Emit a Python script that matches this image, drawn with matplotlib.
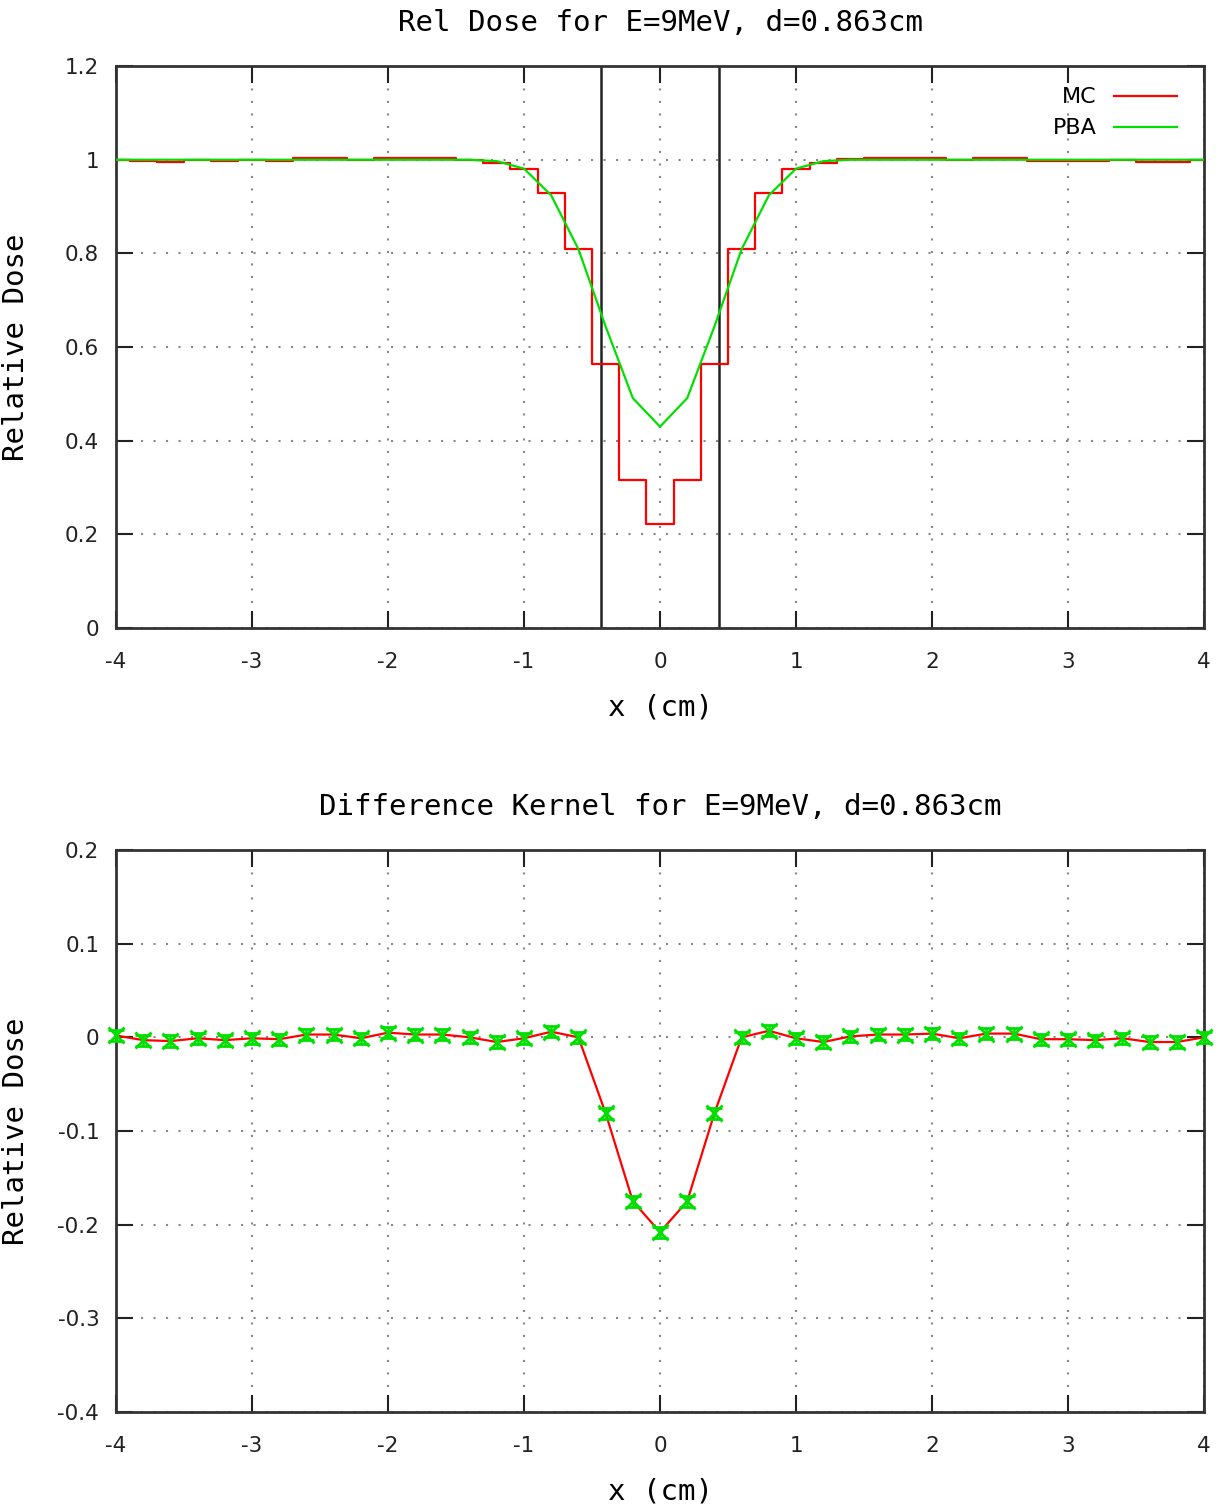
import numpy as np
import matplotlib
matplotlib.use("Agg")
import matplotlib.pyplot as plt

# ---------------------------------------------------------------------------
# Data
# ---------------------------------------------------------------------------
x_pos = [-4.0, -3.8, -3.6, -3.4, -3.2, -3.0, -2.8, -2.6, -2.4, -2.2,
         -2.0, -1.8, -1.6, -1.4, -1.2, -1.0, -0.8, -0.6, -0.4, -0.2,
         0.0, 0.2, 0.4, 0.6, 0.8, 1.0, 1.2, 1.4, 1.6, 1.8,
         2.0, 2.2, 2.4, 2.6, 2.8, 3.0, 3.2, 3.4, 3.6, 3.8, 4.0]

mc_dose = [1.000, 0.997, 0.996, 0.999, 0.997, 0.999, 0.998, 1.003, 1.003, 0.999,
           1.004, 1.003, 1.003, 1.000, 0.992, 0.980, 0.930, 0.809, 0.563, 0.316,
           0.222, 0.316, 0.563, 0.809, 0.930, 0.980, 0.992, 1.001, 1.003, 1.003,
           1.004, 0.999, 1.004, 1.004, 0.998, 0.998, 0.997, 0.999, 0.995, 0.995, 1.000]

pba_dose = [1.000, 1.000, 1.000, 1.000, 1.000, 1.000, 1.000, 1.000, 1.000, 1.000,
            1.000, 1.000, 1.000, 1.000, 0.997, 0.981, 0.924, 0.809, 0.644, 0.491,
            0.430, 0.491, 0.644, 0.809, 0.924, 0.981, 0.997, 1.000, 1.000, 1.000,
            1.000, 1.000, 1.000, 1.000, 1.000, 1.000, 1.000, 1.000, 1.000, 1.000, 1.000]

diff = [0.002, -0.003, -0.004, -0.001, -0.003, -0.001, -0.002, 0.003, 0.003, -0.001,
        0.005, 0.003, 0.003, 0.000, -0.005, -0.001, 0.006, 0.000, -0.081, -0.175,
        -0.208, -0.175, -0.081, 0.000, 0.007, -0.001, -0.005, 0.001, 0.003, 0.003,
        0.004, -0.001, 0.004, 0.004, -0.002, -0.002, -0.003, -0.001, -0.005, -0.005, 0.000]

diff_err = [0.006] * len(x_pos)

field_edges = [-0.4315, 0.4315]

TITLE_TOP = "Rel Dose for E=9MeV, d=0.863cm"
TITLE_BOT = "Difference Kernel for E=9MeV, d=0.863cm"

MONO = "DejaVu Sans Mono"
SANS = "DejaVu Sans"
RED = "#ff0000"
GREEN = "#00e000"


def style_axes(ax, ylim, yticks):
    ax.set_xlim(-4, 4)
    ax.set_ylim(*ylim)
    ax.set_xticks(np.arange(-4, 5, 1))
    ax.set_yticks(yticks)
    ax.set_xticklabels([f"{v:g}" for v in np.arange(-4, 5, 1)], family=SANS)
    ax.set_yticklabels([f"{v:g}" for v in yticks], family=SANS)
    ax.tick_params(direction="in", length=12, width=1.5, top=True, right=True,
                   labelsize=15.5, colors="#222222")
    ax.tick_params(axis="x", pad=17)
    ax.tick_params(axis="y", pad=12)
    for s in ax.spines.values():
        s.set_linewidth(2)
        s.set_color("#333333")
    ax.grid(True, color="#888888", linestyle=(0, (1, 5)), linewidth=1.5)
    ax.set_axisbelow(True)
    ax.set_xlabel("x (cm)", family=MONO, fontsize=21, labelpad=16)
    ax.set_ylabel("Relative Dose", family=MONO, fontsize=21)
    ax.yaxis.set_label_coords(-0.079, 0.5)


fig = plt.figure(figsize=(12.25, 15.09), dpi=100)
ax1 = fig.add_axes([0.0947, 0.5838, 0.8882, 0.3724])
ax2 = fig.add_axes([0.0947, 0.0643, 0.8882, 0.3724])

# A) relative dose profile
for xe in field_edges:
    ax1.axvline(xe, color="#222222", lw=1.8, zorder=2)
ax1.step(x_pos, mc_dose, where="mid", color=RED, lw=1.6, label="MC", zorder=3)
ax1.plot(x_pos, pba_dose, color=GREEN, lw=1.6, label="PBA", zorder=4)
style_axes(ax1, (0, 1.2), [0, 0.2, 0.4, 0.6, 0.8, 1.0, 1.2])
ax1.set_title(TITLE_TOP, family=MONO, fontsize=21, pad=25)
ax1.legend(loc="upper right", frameon=False, markerfirst=False,
           prop={"family": SANS, "size": 16}, handlelength=2.8,
           borderaxespad=0.0, labelspacing=0.5, bbox_to_anchor=(0.983, 0.978))

# B) difference kernel
ax2.plot(x_pos, diff, color=RED, lw=1.6, zorder=3)
ax2.errorbar(x_pos, diff, yerr=diff_err, fmt="x", color=GREEN, ms=11, mew=2,
             elinewidth=1.8, capsize=6, capthick=2, zorder=4, clip_on=False)
style_axes(ax2, (-0.4, 0.2), [-0.4, -0.3, -0.2, -0.1, 0, 0.1, 0.2])
ax2.set_title(TITLE_BOT, family=MONO, fontsize=21, pad=25)

fig.savefig("out.png", dpi=100)
